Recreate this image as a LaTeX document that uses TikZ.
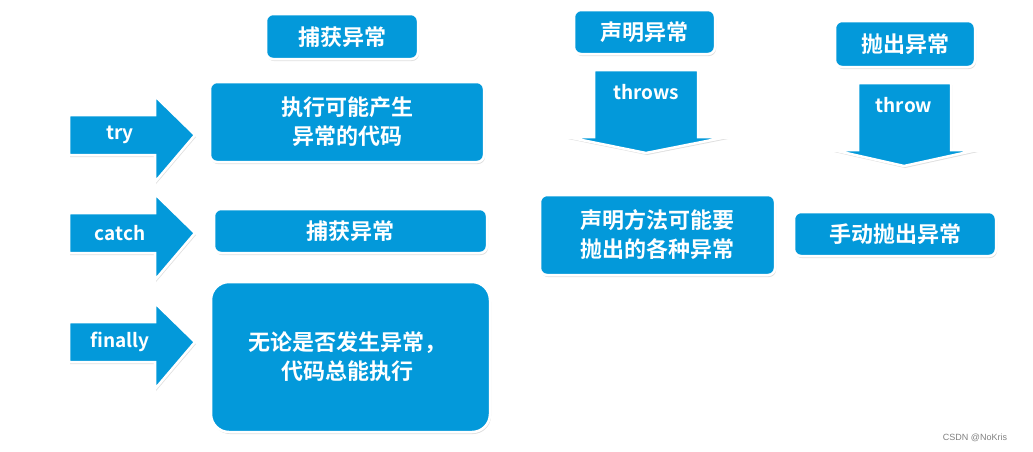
\documentclass[tikz,border=0pt]{standalone}
\usepackage{fontspec}
\newfontfamily\cjk{Noto Sans CJK SC Bold}
\usetikzlibrary{shadows}
\definecolor{bl}{HTML}{0399DA}
\tikzset{
  box/.style={fill=bl,draw=white,line width=2.5pt,rounded corners=7pt,drop shadow={opacity=0.25,shadow xshift=1pt,shadow yshift=-2pt}},
  arr/.style={fill=bl,draw=white,line width=2.5pt,drop shadow={opacity=0.25,shadow xshift=1pt,shadow yshift=-2pt}},
  txt/.style={text=white,font=\cjk\fontsize{22}{29}\selectfont,align=center},
  etxt/.style={text=white,font=\cjk\fontsize{19}{22}\selectfont}
}
\begin{document}
\begin{tikzpicture}[x=1pt,y=-1pt]
\useasboundingbox (0,0) rectangle (1033,451);
% left column
\path[box] (266,14) rectangle (418,59);
\node[txt] (t1) at (342,37) {捕获异常};
\path[box] (210,82) rectangle (484,162);
\node[txt] (t2) at (347,122) {执行可能产生\\异常的代码};
\path[box] (214,209) rectangle (487,253);
\node[txt] (t3) at (350,231) {捕获异常};
\path[box,rounded corners=18pt] (211,282) rectangle (490,432);
\node[txt] (t4) at (347,357) {无论是否发生异常，\\代码总能执行};
% arrows
\foreach \y/\lab/\n in {135/try/a1,233/catch/a2,342/finally/a3}{
  \path[arr] (69,\y-20) -- (155,\y-20) -- (155,\y-39) -- (195,\y) -- (155,\y+47) -- (155,\y+20) -- (69,\y+20) -- cycle;
  \node[etxt] (\n) at (120,\y) {\lab};
}
% middle
\path[box] (574,10) rectangle (715,54);
\node[txt] (m1) at (644,32) {声明异常};
\path[arr] (594,70) -- (698,70) -- (698,137) -- (727,137) -- (646,153) -- (567,137) -- (594,137) -- cycle;
\node[etxt] (m2) at (646,92) {throws};
\path[box] (540,195) rectangle (775,275);
\node[txt] (m3) at (657,235) {声明方法可能要\\抛出的各种异常};
% right
\path[box] (835,21) rectangle (975,67);
\node[txt] (r1) at (905,44) {抛出异常};
\path[arr] (858,83) -- (951,83) -- (951,150) -- (977,150) -- (904,166) -- (833,150) -- (858,150) -- cycle;
\node[etxt] (r2) at (904,105) {throw};
\path[box] (794,212) rectangle (996,256);
\node[txt] (r3) at (895,234) {手动抛出异常};
\node[text=gray,font=\fontspec{Liberation Sans}\fontsize{9}{10}\selectfont] (wm) at (975,438) {CSDN @NoKris};
\end{tikzpicture}
\end{document}
